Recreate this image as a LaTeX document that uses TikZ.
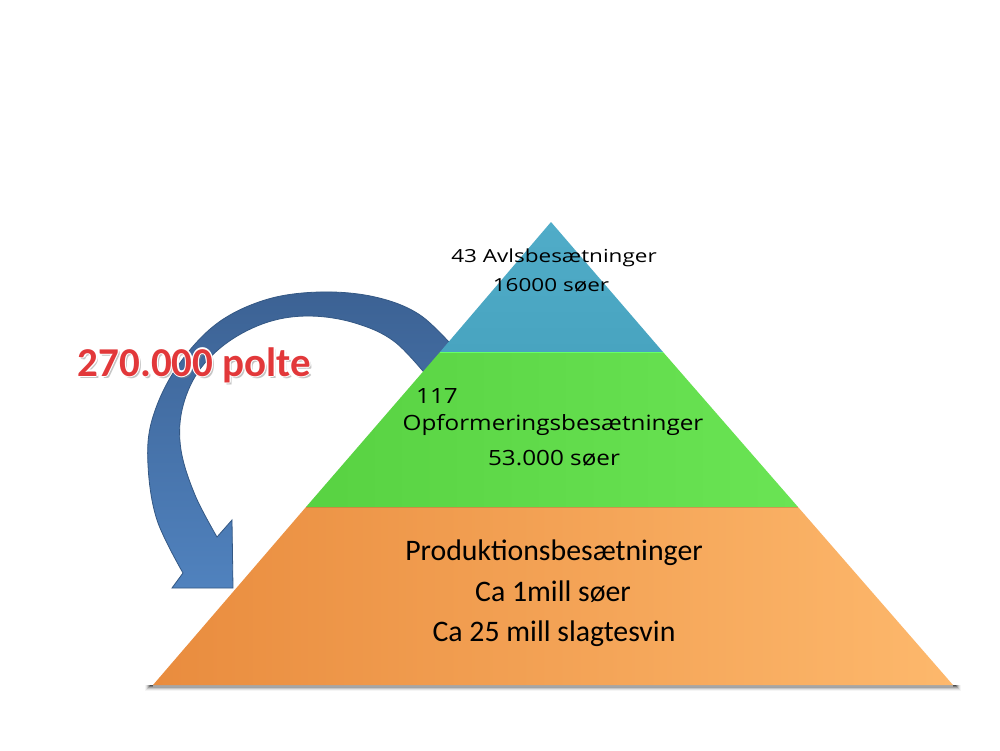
\documentclass[tikz,border=0pt]{standalone}
\usepackage{fontspec}
\setmainfont{Carlito}
\newfontfamily\osanstop{Open Sans}[FakeStretch=1.25]
\newfontfamily\osansmid{Open Sans}[FakeStretch=1.155]
\definecolor{teal1}{RGB}{80,172,200}
\definecolor{teal2}{RGB}{72,164,192}
\definecolor{green1}{RGB}{88,210,66}
\definecolor{green2}{RGB}{106,228,84}
\definecolor{orange1}{RGB}{233,140,62}
\definecolor{orange2}{RGB}{253,184,108}
\definecolor{arrtop}{RGB}{60,98,148}
\definecolor{arrbot}{RGB}{80,130,190}
\definecolor{arrline}{RGB}{52,88,132}
\definecolor{poltered}{RGB}{226,56,58}
\begin{document}
\begin{tikzpicture}[x=1pt,y=-1pt,
  toptext/.style={font=\osanstop\fontsize{18}{20}\selectfont, anchor=base, inner sep=0pt},
  midtext/.style={font=\osansmid\fontsize{21}{23}\selectfont, anchor=base, inner sep=0pt},
  bottext/.style={font=\fontsize{29.8}{31}\selectfont, anchor=base, inner sep=0pt},
  poltetext/.style={font=\bfseries\fontsize{41}{43}\selectfont, anchor=base, inner sep=0pt}]
\useasboundingbox (0,0) rectangle (1000,750);
\fill[white] (0,0) rectangle (1000,750);

% curved arrow (behind pyramid)
\shade[top color=arrtop, bottom color=arrbot, draw=arrline, line width=0.8pt]
  plot[smooth, tension=0.6] coordinates {(458,352) (420,315) (375,297) (320,292) (265,300) (215,325) (175,370) (152,420) (148,465) (157,520) (183,573)}
  -- (172,588) -- (233,588) -- (232,520) --
  plot[smooth, tension=0.6] coordinates {(217,537) (195,495) (181,450) (182,410) (198,372) (228,342) (268,322) (310,316) (355,323) (395,342) (432,382)}
  -- cycle;

% shadow below pyramid
\foreach \i/\o in {0/0.35,1/0.25,2/0.18,3/0.12,4/0.07,5/0.04}{
  \fill[black, opacity=\o] (150-\i,685) rectangle (956+\i,686+\i);
}
\draw[gray!70, line width=1.2pt] (153,686) -- (953,686);

% pyramid layers
\shade[left color=orange1, right color=orange2] (306,507) -- (798,507) -- (953,685) -- (153,685) -- cycle;
\shade[left color=green1, right color=green2] (440,352) -- (663,352) -- (798,507) -- (306,507) -- cycle;
\shade[top color=teal1, bottom color=teal2] (551,222) -- (663,352) -- (440,352) -- cycle;
\draw[green!60!white, line width=0.8pt] (440,352) -- (663,352);
\draw[orange1!80!black, opacity=0.4, line width=1pt] (306,507.5) -- (798,507.5);

% texts
\node[toptext] (t1) at (554,262) {43 Avlsbesætninger};
\node[toptext] (t2) at (551,291) {16000 søer};
\node[midtext] (m0) at (437,403) {117};
\node[midtext] (m1) at (553,430) {Opformeringsbesætninger};
\node[midtext] (m2) at (554,465) {53.000 søer};
\node[bottext] (b1) at (554,560) {Produktionsbesætninger};
\node[bottext] (b2) at (553,601) {Ca 1mill søer};
\node[bottext] (b3) at (554,641) {Ca 25 mill slagtesvin};

% 270.000 polte
\node[poltetext, text=black!45, opacity=0.5] (ps) at (196.5,378.5) {270.000 polte};
\foreach \dx/\dy in {-1.2/0,1.2/0,0/-1.2,0/1.2,-0.9/-0.9,0.9/0.9,-0.9/0.9,0.9/-0.9}{
  \node[poltetext, text=white] at (194.5+\dx,376+\dy) {270.000 polte};
}
\node[poltetext, text=poltered] (polte) at (194.5,376) {270.000 polte};
\end{tikzpicture}
\end{document}
